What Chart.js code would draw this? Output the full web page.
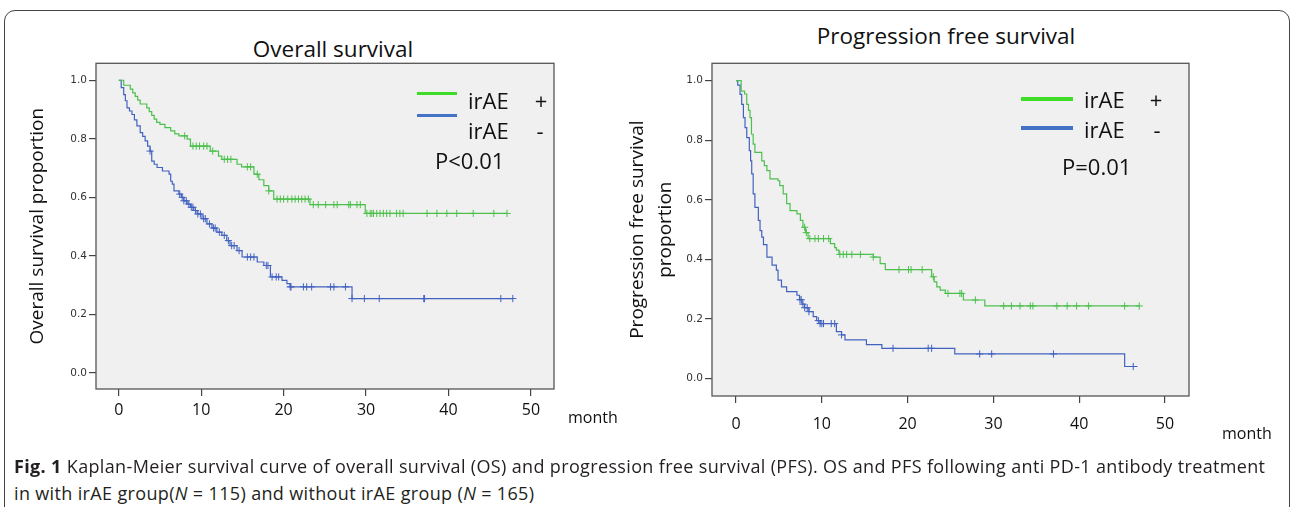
<!DOCTYPE html>
<html>
<head>
<meta charset="utf-8">
<script src="https://cdn.jsdelivr.net/npm/chart.js@4.4.0/dist/chart.umd.min.js"></script>
<style>
  body { margin: 0; background: #fff; width: 1292px; height: 507px; overflow: hidden; position: relative; font-family: 'Open Sans', sans-serif; color: #111; }
  .frame { position: absolute; left: 4px; top: 10px; width: 1284px; height: 600px; border: 1.5px solid #444; border-radius: 11px; }
  canvas { position: absolute; }
  .t { position: absolute; white-space: nowrap; line-height: 1; }
  .mid { transform: translateY(-50%); }
  .ctr { transform: translate(-50%, -50%); }
  .bar { position: absolute; }
  .caption { position: absolute; left: 14px; font-size: 18px; letter-spacing: 0.35px; color: #231f20; white-space: nowrap; line-height: 1; transform: translateY(-50%); }
</style>
</head>
<body>
<div class="frame"></div>

<div class="t ctr" style="left:333px; top:49px; font-size:22.5px;">Overall survival</div>
<div class="t ctr" style="left:946px; top:36px; font-size:22.5px;">Progression free survival</div>

<canvas id="osChart" width="600" height="380" style="left:0; top:55px;"></canvas>
<canvas id="pfsChart" width="692" height="400" style="left:600px; top:55px;"></canvas>

<!-- OS legend -->
<div class="bar" style="left:417px; top:92px; width:40px; height:3px; background:#3ddc27;"></div>
<div class="bar" style="left:417px; top:114px; width:40px; height:3px; background:#4472c4;"></div>
<div class="t mid" style="left:468px; top:100px; font-size:22px;">irAE</div>
<div class="t ctr" style="left:541px; top:100px; font-size:22px;">+</div>
<div class="t mid" style="left:468px; top:130px; font-size:22px;">irAE</div>
<div class="t ctr" style="left:540px; top:130px; font-size:22px;">-</div>
<div class="t mid" style="left:435px; top:160px; font-size:22px;">P&lt;0.01</div>
<div class="t mid" style="left:568px; top:417px; font-size:16px;">month</div>

<!-- PFS legend -->
<div class="bar" style="left:1021px; top:97px; width:52px; height:4px; background:#3ddc27;"></div>
<div class="bar" style="left:1021px; top:126px; width:52px; height:4px; background:#4472c4;"></div>
<div class="t mid" style="left:1084px; top:99px; font-size:22px;">irAE</div>
<div class="t ctr" style="left:1156px; top:99px; font-size:22px;">+</div>
<div class="t mid" style="left:1084px; top:129px; font-size:22px;">irAE</div>
<div class="t ctr" style="left:1157px; top:129px; font-size:22px;">-</div>
<div class="t mid" style="left:1062px; top:166px; font-size:22px;">P=0.01</div>
<div class="t mid" style="left:1222px; top:433px; font-size:16px;">month</div>

<div class="caption" style="top:466px;"><b>Fig. 1</b> Kaplan-Meier survival curve of overall survival (OS) and progression free survival (PFS). OS and PFS following anti PD-1 antibody treatment</div>
<div class="caption" style="top:493px;">in with irAE group(<i>N</i> = 115) and without irAE group (<i>N</i> = 165)</div>

<script>
// Overall survival, irAE +
const osPosTime = [0, 0.6, 1.4, 1.7, 2.0, 2.3, 2.6, 3.4, 3.7, 4.0, 4.3, 4.6, 5.0, 5.6, 6.3, 6.8, 7.3, 8.3, 8.7, 11.1, 12.1, 12.5, 14.35, 14.9, 16.4, 17.0, 17.6, 18.2, 18.8, 23.2, 29.9, 47.1];
const osPosSurv = [1.0, 0.983, 0.97, 0.957, 0.945, 0.932, 0.919, 0.906, 0.893, 0.88, 0.867, 0.856, 0.849, 0.838, 0.827, 0.817, 0.81, 0.799, 0.775, 0.758, 0.741, 0.73, 0.713, 0.704, 0.679, 0.66, 0.64, 0.622, 0.594, 0.575, 0.545, 0.545];
const osPosCensor = [8.0, 9.0, 9.4, 9.8, 10.3, 10.7, 11.4, 12.8, 13.2, 13.6, 15.6, 16.0, 16.8, 18.2, 19.2, 19.6, 20.0, 20.5, 21.0, 21.4, 21.8, 22.2, 22.6, 23.0, 23.6, 24.2, 25.1, 26.1, 26.5, 27.9, 28.1, 28.9, 29.3, 30.1, 30.5, 30.7, 30.9, 31.3, 31.7, 32.1, 32.5, 32.9, 33.7, 34.1, 34.5, 37.4, 38.6, 39.8, 41.0, 43.0, 45.5, 47.1];

// Overall survival, irAE -
const osNegTime = [0, 0.3, 0.6, 0.8, 1.0, 1.3, 1.6, 1.9, 2.2, 2.6, 2.9, 3.2, 3.5, 3.8, 4.0, 4.3, 4.65, 5.3, 6.1, 6.3, 6.5, 6.7, 7.3, 7.6, 7.9, 8.3, 8.7, 9.1, 9.5, 10.1, 10.7, 11.3, 11.9, 12.5, 13.1, 13.5, 14.35, 14.96, 16.8, 17.6, 18.4, 19.8, 20.4, 20.8, 28.3, 47.8];
const osNegSurv = [1.0, 0.975, 0.951, 0.93, 0.906, 0.895, 0.883, 0.865, 0.844, 0.821, 0.808, 0.793, 0.775, 0.758, 0.724, 0.713, 0.702, 0.69, 0.679, 0.655, 0.645, 0.622, 0.611, 0.6, 0.588, 0.577, 0.566, 0.555, 0.543, 0.527, 0.509, 0.495, 0.481, 0.47, 0.452, 0.435, 0.418, 0.396, 0.379, 0.367, 0.328, 0.316, 0.305, 0.294, 0.254, 0.254];
const osNegCensor = [3.8, 7.4, 7.7, 7.9, 8.2, 8.5, 8.8, 9.0, 9.3, 9.6, 9.9, 10.3, 10.5, 11.0, 11.5, 11.7, 12.2, 12.8, 13.3, 13.7, 14.0, 14.6, 15.6, 16.0, 16.4, 17.9, 18.1, 18.6, 19.1, 19.4, 20.8, 20.9, 22.4, 22.8, 23.4, 25.7, 26.1, 27.5, 28.3, 29.8, 31.6, 37.0, 37.1, 46.35, 47.8];

// Progression free survival, irAE +
const pfsPosTime = [0, 0.6, 1.0, 1.25, 1.45, 1.63, 1.8, 2.0, 2.2, 3.0, 3.3, 3.6, 3.96, 4.9, 5.1, 5.5, 5.9, 6.3, 7.1, 7.5, 7.8, 8.1, 8.4, 11.0, 11.5, 11.7, 12.0, 16.0, 16.8, 17.4, 22.8, 23.1, 23.4, 23.8, 24.4, 26.5, 29.0, 47.0];
const pfsPosSurv = [1.0, 0.965, 0.955, 0.92, 0.9, 0.876, 0.82, 0.787, 0.759, 0.731, 0.715, 0.698, 0.67, 0.664, 0.648, 0.62, 0.587, 0.564, 0.553, 0.531, 0.508, 0.49, 0.47, 0.453, 0.44, 0.431, 0.417, 0.408, 0.386, 0.366, 0.342, 0.325, 0.308, 0.297, 0.286, 0.264, 0.244, 0.244];
const pfsPosCensor = [8.0, 8.2, 8.6, 9.2, 9.6, 10.2, 10.8, 12.1, 12.5, 12.9, 13.5, 14.5, 16.0, 19.0, 20.1, 20.4, 21.7, 23.0, 24.7, 26.1, 26.3, 27.9, 31.2, 32.1, 33.1, 34.3, 34.6, 37.4, 38.6, 39.7, 41.1, 45.3, 47.0];

// Progression free survival, irAE -
const pfsNegTime = [0, 0.2, 0.47, 0.66, 0.86, 1.05, 1.25, 1.55, 1.7, 1.83, 2.0, 2.2, 2.6, 2.8, 3.0, 3.2, 3.6, 4.2, 4.7, 4.9, 5.3, 5.9, 7.1, 7.4, 7.7, 8.0, 8.5, 9.0, 9.4, 9.8, 11.7, 12.3, 12.7, 15.2, 17.0, 25.5, 45.3, 46.8];
const pfsNegSurv = [1.0, 0.985, 0.954, 0.92, 0.876, 0.842, 0.809, 0.765, 0.731, 0.687, 0.62, 0.575, 0.531, 0.497, 0.475, 0.45, 0.408, 0.381, 0.364, 0.331, 0.308, 0.292, 0.28, 0.265, 0.25, 0.238, 0.225, 0.208, 0.195, 0.185, 0.158, 0.147, 0.13, 0.114, 0.102, 0.083, 0.041, 0.041];
const pfsNegCensor = [7.45, 7.6, 7.8, 8.0, 8.3, 8.5, 9.6, 9.8, 10.0, 10.2, 11.1, 11.5, 12.3, 18.3, 22.4, 22.8, 28.4, 29.8, 37.0, 46.3];

const xTicks = [0, 10, 20, 30, 40, 50];
const yTicks = [0, 0.2, 0.4, 0.6, 0.8, 1.0];

const greenLine = '#4cc04c';
const blueLine = '#4262c0';

const steps = (times, surv) => times.map((t, i) => ({ x: t, y: surv[i] }));

const survAt = (times, surv, t) => {
    let s = surv[0];
    times.forEach((tt, i) => { if (tt <= t) s = surv[i]; });
    return s;
};

const censors = (times, surv, cens) => cens.map(t => ({ x: t, y: survAt(times, surv, t) }));

// grey plot box with dark frame, like SPSS
const plotBox = {
    id: 'plotBox',
    beforeDraw(chart) {
        const { ctx, chartArea: a } = chart;
        ctx.save();
        ctx.fillStyle = '#f0f0f0';
        ctx.fillRect(a.left, a.top, a.right - a.left, a.bottom - a.top);
        ctx.restore();
    },
    afterDraw(chart) {
        const { ctx, chartArea: a } = chart;
        ctx.save();
        ctx.strokeStyle = '#555';
        ctx.lineWidth = 1.3;
        ctx.strokeRect(a.left, a.top, a.right - a.left, a.bottom - a.top);
        ctx.restore();
    }
};

const drawChart = (id, c) => {
    const ctx = document.getElementById(id).getContext('2d');

    const line = (data, color) => ({
        data: data, borderColor: color, borderWidth: 1.2, stepped: true,
        pointRadius: 0, fill: false, showLine: true
    });
    const marks = (data, color) => ({
        data: data, borderColor: color, borderWidth: 1, pointStyle: 'cross',
        pointRadius: 3.6, showLine: false
    });

    return new Chart(ctx, {
        type: 'scatter',
        data: {
            datasets: [
                line(steps(c.posTime, c.posSurv), greenLine),
                marks(censors(c.posTime, c.posSurv, c.posCensor), greenLine),
                line(steps(c.negTime, c.negSurv), blueLine),
                marks(censors(c.negTime, c.negSurv, c.negCensor), blueLine),
            ],
        },
        options: {
            responsive: false,
            animation: false,
            layout: { padding: c.padding },
            plugins: { legend: { display: false }, tooltip: { enabled: false } },
            scales: {
                x: {
                    type: 'linear', min: c.xMin, max: c.xMax,
                    afterBuildTicks: (s) => { s.ticks = xTicks.map(v => ({ value: v })); },
                    afterFit: (s) => { s.height = c.xHeight; },
                    grid: { drawOnChartArea: false, tickLength: 7, color: '#444', lineWidth: 1.2 },
                    border: { display: false },
                    ticks: { color: '#111', font: { family: 'Open Sans', size: 16 }, padding: c.xPad, maxRotation: 0 },
                },
                y: {
                    type: 'linear', min: c.yMin, max: c.yMax,
                    afterBuildTicks: (s) => { s.ticks = yTicks.map(v => ({ value: v })); },
                    afterFit: (s) => { s.width = c.yWidth; },
                    grid: { drawOnChartArea: false, tickLength: 7, color: '#444', lineWidth: 1.2 },
                    border: { display: false },
                    ticks: { color: '#333', font: { family: 'DejaVu Sans', size: 10.5 }, padding: 2, callback: v => v.toFixed(1) },
                    title: {
                        display: true, text: c.yTitle, color: '#111',
                        font: { family: 'Open Sans', size: 19, lineHeight: 1.45 }, padding: { top: 4, bottom: 4 }
                    },
                },
            },
        },
        plugins: [plotBox],
    });
};

drawChart('osChart', {
    posTime: osPosTime, posSurv: osPosSurv, posCensor: osPosCensor,
    negTime: osNegTime, negSurv: osNegSurv, negCensor: osNegCensor,
    xMin: -2.76, xMax: 52.8, yMin: -0.055, yMax: 1.058,
    padding: { left: 20, top: 7, right: 46, bottom: 0 },
    yWidth: 76, xHeight: 46, xPad: 5,
    yTitle: 'Overall survival proportion',
});

drawChart('pfsChart', {
    posTime: pfsPosTime, posSurv: pfsPosSurv, posCensor: pfsPosCensor,
    negTime: pfsNegTime, negSurv: pfsNegSurv, negCensor: pfsNegCensor,
    xMin: -2.8, xMax: 52.8, yMin: -0.058, yMax: 1.058,
    padding: { left: 20, top: 7, right: 103, bottom: 0 },
    yWidth: 92, xHeight: 59, xPad: 12,
    yTitle: ['Progression free survival', 'proportion'],
});
</script>
</body>
</html>
